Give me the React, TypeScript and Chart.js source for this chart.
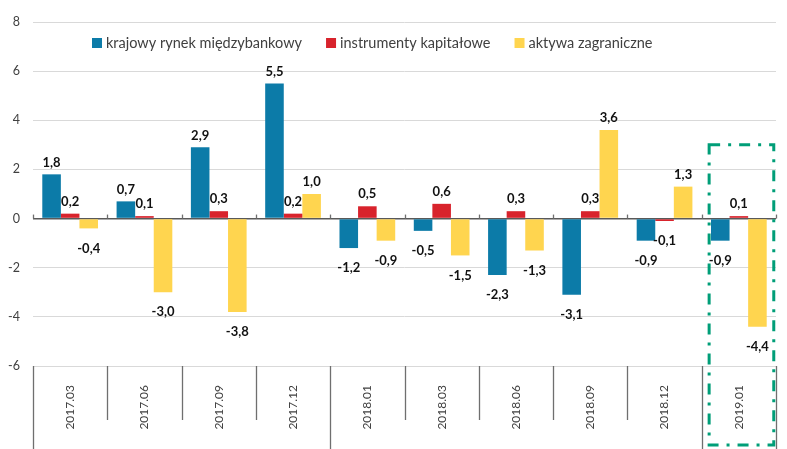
import React, { useEffect, useRef } from 'react';
import { Chart, registerables } from 'chart.js';

Chart.register(...registerables);

const categories = ['2017.03', '2017.06', '2017.09', '2017.12', '2018.01', '2018.03', '2018.06', '2018.09', '2018.12', '2019.01'];
const groupBoundaries = [0, 4, 9, 10];
const seriesNames = ['krajowy rynek międzybankowy', 'instrumenty kapitałowe', 'aktywa zagraniczne'];
const domestic = [1.8, 0.7, 2.9, 5.5, -1.2, -0.5, -2.3, -3.1, -0.9, -0.9];
const equity = [0.2, 0.1, 0.3, 0.2, 0.5, 0.6, 0.3, 0.3, -0.1, 0.1];
const foreign = [-0.4, -3.0, -3.8, 1.0, -0.9, -1.5, -1.3, 3.6, 1.3, -4.4];
const colors = ['#0C7BA8', '#D8232C', '#FFD54F'];
const yMin = -6;
const yMax = 8;
const yStep = 2;
const highlightIndex = 9;
const highlightTop = 3;

const FONT = 'Lato, "Open Sans", sans-serif';

const fmt = (v: number) => v.toFixed(1).replace('.', ',');

const overlayPlugin = {
  id: 'overlay',
  afterDatasetsDraw(chart: any) {
    const ctx = chart.ctx;
    const xs = chart.scales.x;
    const ys = chart.scales.y;
    const area = chart.chartArea;
    const catW = (area.right - area.left) / categories.length;
    const y0 = ys.getPixelForValue(0);

    // data labels
    ctx.save();
    ctx.font = `bold 13px ${FONT}`;
    ctx.fillStyle = '#111';
    ctx.textAlign = 'center';
    ctx.textBaseline = 'middle';
    chart.data.datasets.forEach((ds: any, di: number) => {
      const meta = chart.getDatasetMeta(di);
      meta.data.forEach((bar: any, i: number) => {
        const v = ds.data[i];
        const y = v >= 0 ? bar.y - 12 : bar.y + 20;
        ctx.fillText(fmt(v), bar.x, y);
      });
    });
    ctx.restore();

    // zero-line ticks and category separators
    ctx.save();
    ctx.strokeStyle = '#6f6f6f';
    ctx.lineWidth = 1.3;
    for (let i = 0; i <= categories.length; i++) {
      const x = Math.round(xs.getPixelForValue(0) - catW / 2 + i * catW) + 0.5;
      ctx.beginPath();
      ctx.moveTo(x, y0 - 4);
      ctx.lineTo(x, y0);
      ctx.stroke();
      const long = groupBoundaries.includes(i);
      ctx.beginPath();
      ctx.moveTo(x, area.bottom);
      ctx.lineTo(x, long ? chart.height : area.bottom + 54);
      ctx.stroke();
    }
    ctx.restore();

    // legend
    ctx.save();
    ctx.font = `14.5px ${FONT}`;
    ctx.textBaseline = 'middle';
    ctx.textAlign = 'left';
    let lx = area.left + 59;
    const ly = area.top + 21;
    seriesNames.forEach((name, i) => {
      ctx.fillStyle = colors[i];
      ctx.fillRect(lx, ly - 5, 10, 10);
      ctx.fillStyle = '#404040';
      ctx.fillText(name, lx + 14, ly);
      lx += 14 + ctx.measureText(name).width + 24;
    });
    ctx.restore();

    // highlight box
    ctx.save();
    const cx = xs.getPixelForValue(highlightIndex);
    const top = ys.getPixelForValue(highlightTop);
    ctx.strokeStyle = '#009E78';
    ctx.lineWidth = 3;
    ctx.setLineDash([11, 8, 3, 8]);
    ctx.strokeRect(cx - catW * 0.4, top, catW * 0.87, chart.height - 4 - top);
    ctx.restore();
  },
};

export default function App() {
  const ref = useRef<HTMLCanvasElement>(null);
  useEffect(() => {
    if (!ref.current) return;
    const chart = new Chart(ref.current, {
      type: 'bar',
      data: {
        labels: categories,
        datasets: [
          { label: seriesNames[0], data: domestic, backgroundColor: colors[0] },
          { label: seriesNames[1], data: equity, backgroundColor: colors[1] },
          { label: seriesNames[2], data: foreign, backgroundColor: colors[2] },
        ],
      },
      options: {
        responsive: false,
        animation: false,
        layout: { padding: { top: 22, right: 11, left: 0, bottom: 0 } },
        datasets: { bar: { barPercentage: 1, categoryPercentage: 0.75 } },
        plugins: { legend: { display: false }, tooltip: { enabled: false } },
        scales: {
          x: {
            offset: true,
            grid: { display: false },
            border: { display: false },
            ticks: { minRotation: 90, maxRotation: 90, padding: 11, color: '#404040', font: { family: FONT, size: 12 } },
            afterFit: (s: any) => { s.height = 83; },
          },
          y: {
            min: yMin,
            max: yMax,
            border: { display: false },
            grid: {
              drawTicks: false,
              color: (c: any) => (c.tick && c.tick.value === 0 ? '#595959' : '#d9d9d9'),
              lineWidth: (c: any) => (c.tick && c.tick.value === 0 ? 1.5 : 1),
            },
            ticks: { stepSize: yStep, padding: 13, color: '#404040', font: { family: FONT, size: 12.5 } },
            afterFit: (s: any) => { s.width = 33; },
          },
        },
      },
      plugins: [overlayPlugin],
    });
    return () => chart.destroy();
  }, []);
  return (
    <div style={{ position: 'absolute', left: 0, top: 0, width: 787, height: 449, background: '#fff' }}>
      <canvas ref={ref} width={787} height={449} />
    </div>
  );
}
